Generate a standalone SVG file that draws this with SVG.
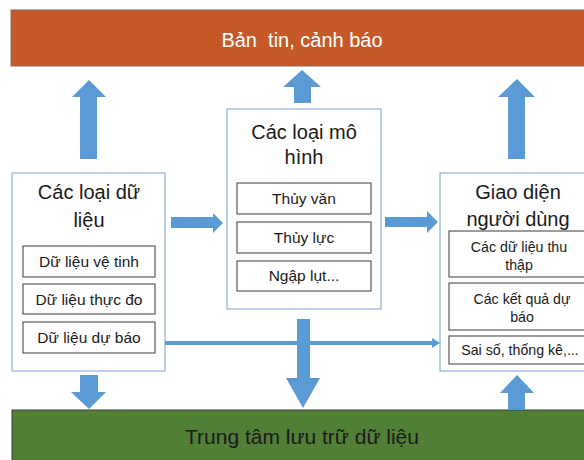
<svg xmlns="http://www.w3.org/2000/svg" width="584" height="460" viewBox="0 0 584 460">
<style>
text{font-family:"Liberation Sans","Open Sans",Arial,sans-serif;text-anchor:middle;fill:#1a1a1a}
.outer{fill:#fff;stroke:#8fb0d4;stroke-width:1.2}
.inner{fill:#fff;stroke:#3a3a3a;stroke-width:1}
.ttl{font-size:20px}
.it{font-size:15.5px}
.its{font-size:14.2px}
.arr{fill:#5b9bd5}
</style>
<rect width="584" height="460" fill="#fff"/>
<g id="bulletin">
<rect x="11" y="10" width="580" height="56" fill="#c55a28" stroke="#8a6a5a" stroke-width="1"/>
<text x="302" y="47" font-size="20" xml:space="preserve" style="fill:#fff;white-space:pre">Bản  tin, cảnh báo</text>
</g>
<g id="storage">
<rect x="12" y="410" width="580" height="60" fill="#507f35" stroke="#3a3a3a" stroke-width="1"/>
<text x="302" y="444" font-size="21">Trung tâm lưu trữ dữ liệu</text>
</g>
<g id="data">
<rect class="outer" x="12" y="173" width="153" height="198"/>
<text class="ttl" x="89" y="199">Các loại dữ</text>
<text class="ttl" x="89" y="227">liệu</text>
<rect class="inner" x="23" y="246" width="132" height="31"/>
<text class="it" x="89" y="267">Dữ liệu vệ tinh</text>
<rect class="inner" x="23" y="284" width="132" height="30"/>
<text class="it" x="89" y="305">Dữ liệu thực đo</text>
<rect class="inner" x="23" y="322" width="132" height="31"/>
<text class="it" x="89" y="343">Dữ liệu dự báo</text>
</g>
<g id="models">
<rect class="outer" x="227" y="109" width="154" height="200"/>
<text class="ttl" x="304" y="139">Các loại mô</text>
<text class="ttl" x="304" y="164">hình</text>
<rect class="inner" x="237" y="183" width="134" height="31"/>
<text class="it" x="304" y="204">Thủy văn</text>
<rect class="inner" x="237" y="222" width="134" height="31"/>
<text class="it" x="304" y="243">Thủy lực</text>
<rect class="inner" x="237" y="261" width="134" height="30"/>
<text class="it" x="304" y="281">Ngập lụt...</text>
</g>
<g id="ui">
<rect class="outer" x="440" y="173" width="156" height="198"/>
<text class="ttl" x="518" y="199">Giao diện</text>
<text class="ttl" x="518" y="226">người dùng</text>
<rect class="inner" x="449" y="231" width="142" height="46"/>
<text class="its" x="519" y="252">Các dữ liệu thu</text>
<text class="its" x="519" y="270">thập</text>
<rect class="inner" x="449" y="283" width="142" height="47"/>
<text class="its" x="522" y="304">Các kết quả dự</text>
<text class="its" x="522" y="322">báo</text>
<rect class="inner" x="449" y="336" width="142" height="28"/>
<text class="its" x="520" y="355">Sai số, thống kê,...</text>
</g>
<g id="connectors">
<polygon class="arr" points="80,159 80,97 72,97 89,80 106,97 97,97 97,159"/>
<polygon class="arr" points="294,103 294,87 283,87 302,70 321,87 311,87 311,103"/>
<polygon class="arr" points="508,159 508,97 498,97 517,79 535,97 525,97 525,159"/>
<polygon class="arr" points="171,217 213,217 213,213 223,223 213,233 213,228 171,228"/>
<polygon class="arr" points="385,217 427,217 427,211 438,222 427,233 427,227 385,227"/>
<polygon class="arr" points="297,319 310,319 310,378 320,378 303,408 286,378 297,378"/>
<polygon class="arr" points="165,341 432,341 432,338 440,343 432,348 432,345 165,345"/>
<polygon class="arr" points="80,375 98,375 98,392 106,392 89,409 71,392 80,392"/>
<polygon class="arr" points="508,410 508,393 500,393 517,375 534,393 525,393 525,410"/>
</g>
</svg>
